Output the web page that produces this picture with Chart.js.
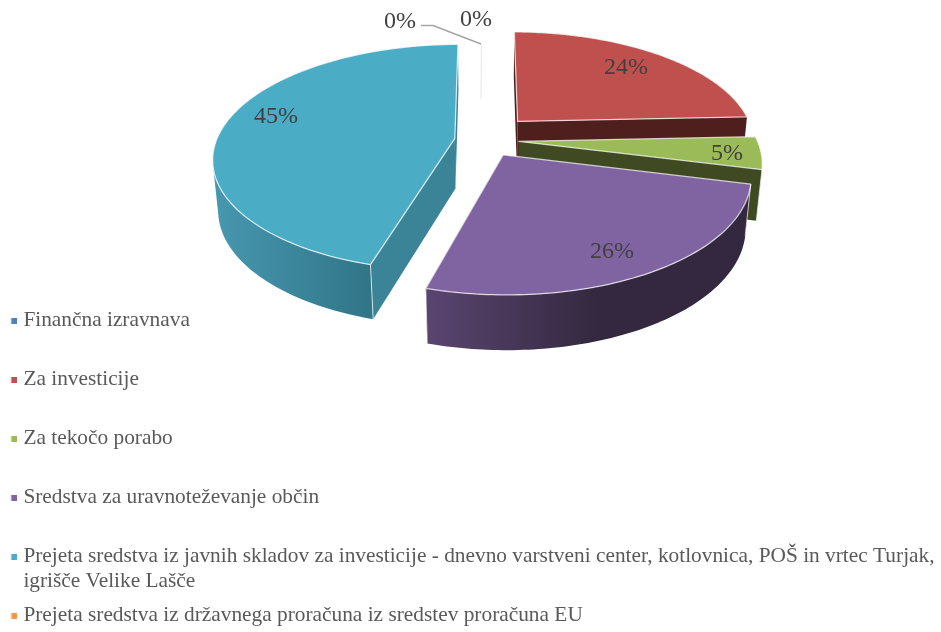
<!DOCTYPE html>
<html><head><meta charset="utf-8">
<style>html,body{margin:0;padding:0;background:#fff}canvas{display:block}</style>
<script src="https://cdn.jsdelivr.net/npm/chart.js@4/dist/chart.umd.min.js"></script>
</head><body><canvas id="c" width="941" height="632"></canvas>
<script>
const categories = [
  'Finančna izravnava',
  'Za investicije',
  'Za tekočo porabo',
  'Sredstva za uravnoteževanje občin',
  ['Prejeta sredstva iz javnih skladov za investicije - dnevno varstveni center, kotlovnica, POŠ in vrtec Turjak,', 'igrišče Velike Lašče'],
  'Prejeta sredstva iz državnega proračuna iz sredstev proračuna EU'
];
const shares = [0.1, 24.2, 4.6, 25.55, 45.45, 0.1];
const explodeX = [-0.02, 0.1385, 0.1395, 0.072, -0.129, -0.02];
const explodeY = [0, 0.175, -0.0115, -0.13, 0.0165, 0];
const colours = ['#4f81bd', '#c0504d', '#9bbb59', '#8064a2', '#4bacc6', '#f79646'];
const sideFlat = ['#2f4d71', '#4e1f1d', '#3f4a22', '#33283f', '#3b8498', '#945a2a'];
const sideFrom = ['#2f4d71', '#4e1f1d', '#3f4a22', '#5a4570', '#4798b0', '#945a2a'];
const sideTo = ['#2f4d71', '#4e1f1d', '#3f4a22', '#33283f', '#317588', '#945a2a'];

const view = {cx: 485.5, cy: 140.2, S: 238.4, T: 110.6, H: 51.8, k: 0.17, m: 0.034, mx: 0.02};
function proj(x, y, z) {
  const w = 1 + view.k * y + view.m * z;
  const wx = 1 + view.k * y + view.mx * z;
  return [view.cx + view.S * x / wx, view.cy + (-view.T * y + view.H * z) / w];
}
function poly(ctx, pts) {
  ctx.beginPath();
  pts.forEach((p, i) => i ? ctx.lineTo(p[0], p[1]) : ctx.moveTo(p[0], p[1]));
}
const total = shares.reduce((a, b) => a + b, 0);
const labelSpots = [[476, 20], [626, 68], [727, 154], [612, 252], [276, 117], [400, 22]];
const EDGE = 'rgba(255,255,255,0.72)';
const LEGEND = {x: 12.7, firstY: 320.5, pitch: 59, line: 25};

const pie3d = {
  id: 'pie3d',
  afterLayout(chart) {
    const lg = chart.legend, p = lg.options.labels.padding, fs = lg.options.labels.font.size;
    lg.left = LEGEND.x - p;
    lg.right = chart.width;
    lg.width = chart.width - lg.left;
    lg.top = LEGEND.firstY - p - fs / 2;
    lg.bottom = 720;
  },
  afterDatasetsDraw(chart) {
    const ctx = chart.ctx, arcs = chart.getDatasetMeta(0).data;
    ctx.save();
    ctx.lineJoin = 'round';
    [1, 4, 2, 3, 0, 5].forEach(i => {
      const a1 = arcs[i].startAngle + Math.PI / 2, a2 = arcs[i].endAngle + Math.PI / 2;
      const mid = (a1 + a2) / 2;
      const ox = explodeX[i], oy = explodeY[i];
      const P = (t, r, z) => proj(ox + r * Math.sin(t), oy + r * Math.cos(t), z);
      if (a2 - a1 < 0.02) {
        ctx.strokeStyle = 'rgba(225,225,225,0.45)';
        ctx.lineWidth = 1;
        poly(ctx, [P(0, 0.4, 0), P(0, 1, 0)]);
        ctx.stroke();
        return;
      }
      const N = 90, rim = [];
      for (let n = 0; n <= N; n++) rim.push(a1 + (a2 - a1) * n / N);
      // radial walls
      [a1, a2].forEach(t => {
        poly(ctx, [P(t, 0, 0), P(t, 1, 0), P(t, 1, 1), P(t, 0, 1)]);
        ctx.closePath();
        ctx.fillStyle = sideFlat[i];
        ctx.fill();
      });
      // curved outer wall, front-facing part
      const front = rim.filter(t => Math.cos(t) < -0.2);
      if (front.length > 1) {
        const up = front.map(t => P(t, 1, 0)), low = front.map(t => P(t, 1, 1)).reverse();
        poly(ctx, up.concat(low));
        ctx.closePath();
        const xs = up.map(p => p[0]);
        const g = ctx.createLinearGradient(Math.min(...xs), 0, i === 3 ? 600 : Math.max(...xs), 0);
        g.addColorStop(0, sideFrom[i]);
        g.addColorStop(1, sideTo[i]);
        ctx.fillStyle = g;
        ctx.fill();
      }
      // top face
      const top = [P(0, 0, 0)].concat(rim.map(t => P(t, 1, 0)));
      poly(ctx, top);
      ctx.closePath();
      ctx.fillStyle = colours[i];
      ctx.fill();
      ctx.strokeStyle = EDGE;
      ctx.lineWidth = 1.3;
      ctx.stroke();
      // corner edge towards the viewer
      [a1, a2].forEach(t => {
        if (Math.cos(t) < 0) {
          poly(ctx, [P(t, 1, 0), P(t, 1, 1)]);
          ctx.lineWidth = 1;
          ctx.stroke();
        }
      });
    });
    // leader line
    ctx.strokeStyle = '#a6a6a6';
    ctx.lineWidth = 1.6;
    poly(ctx, [[421, 25.5], [433, 25.5], [481, 44]]);
    ctx.stroke();
    // percentage labels
    ctx.font = '24px "Liberation Serif"';
    ctx.fillStyle = '#404040';
    ctx.textAlign = 'center';
    ctx.textBaseline = 'middle';
    shares.forEach((v, i) => {
      ctx.fillText(Math.round(v / total * 100) + '%', labelSpots[i][0], labelSpots[i][1]);
    });
    // continuation of the wrapped legend entry
    const opt = chart.legend.options.labels;
    ctx.font = opt.font.size + 'px "Liberation Serif"';
    ctx.fillStyle = opt.color;
    ctx.textAlign = 'left';
    ctx.fillText(categories[4][1], LEGEND.x + 0.01 + opt.font.size / 2, LEGEND.firstY + LEGEND.pitch * 4 + LEGEND.line);
    ctx.restore();
  }
};

function swatch(colour) {
  const c = document.createElement('canvas');
  c.width = 8; c.height = 6;
  const x = c.getContext('2d');
  x.fillStyle = colour;
  x.fillRect(2.5, 0, 5.5, 6);
  return c;
}

new Chart(document.getElementById('c'), {
  type: 'pie',
  data: {
    labels: categories,
    datasets: [{data: shares, backgroundColor: 'rgba(0,0,0,0)', borderWidth: 0, hoverOffset: 0}]
  },
  options: {
    responsive: false,
    animation: false,
    layout: {padding: 0},
    plugins: {
      tooltip: {enabled: false},
      legend: {
        position: 'left',
        align: 'start',
        labels: {
          usePointStyle: true,
          pointStyleWidth: 0.01,
          boxHeight: 6,
          padding: 37.65,
          color: '#595959',
          font: {family: '"Liberation Serif"', size: 21.35},
          generateLabels: () => categories.map((l, i) => ({
            text: Array.isArray(l) ? l[0] : l,
            fontColor: '#595959',
            fillStyle: colours[i],
            strokeStyle: colours[i],
            lineWidth: 0,
            pointStyle: swatch(colours[i]),
            hidden: false,
            index: i
          }))
        }
      }
    }
  },
  plugins: [pie3d]
});
</script>
</body></html>
